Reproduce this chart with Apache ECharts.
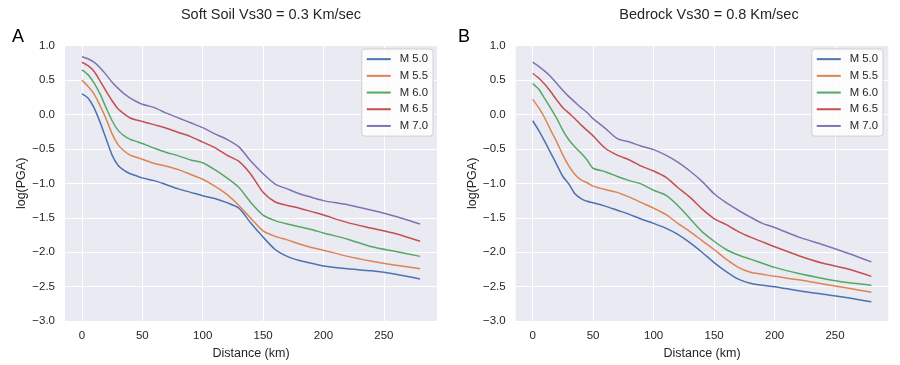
<!DOCTYPE html>
<html>
<head>
<meta charset="utf-8">
<script src="https://cdn.jsdelivr.net/npm/echarts@6/dist/echarts.min.js"></script>
<style>
  html, body { margin: 0; padding: 0; background: #fff; }
  #chart { width: 900px; height: 365px; }
</style>
</head>
<body>
<div id="chart"></div>
<script>
// distances (km) shared by every curve
var distance = [0, 5, 10, 15, 20, 25, 30, 35, 40, 45, 50, 60, 70, 80, 90, 100, 110, 120, 130, 140, 150, 160, 170, 180, 190, 200, 220, 240, 260, 280];
var magnitudes = ['M 5.0', 'M 5.5', 'M 6.0', 'M 6.5', 'M 7.0'];
var xTicks = [0, 50, 100, 150, 200, 250];

// panel A: soft soil
var softM50 = [0.30, 0.24, 0.10, -0.11, -0.35, -0.59, -0.74, -0.81, -0.86, -0.89, -0.92, -0.96, -1.02, -1.08, -1.13, -1.18, -1.22, -1.28, -1.36, -1.58, -1.78, -1.96, -2.06, -2.12, -2.16, -2.20, -2.24, -2.27, -2.32, -2.39];
var softM55 = [0.50, 0.41, 0.30, 0.13, -0.06, -0.28, -0.44, -0.53, -0.59, -0.62, -0.65, -0.71, -0.75, -0.80, -0.87, -0.94, -1.04, -1.16, -1.32, -1.51, -1.69, -1.77, -1.82, -1.88, -1.93, -1.97, -2.06, -2.13, -2.19, -2.24];
var softM60 = [0.65, 0.58, 0.46, 0.30, 0.10, -0.09, -0.23, -0.31, -0.36, -0.39, -0.42, -0.49, -0.55, -0.60, -0.66, -0.70, -0.80, -0.92, -1.06, -1.28, -1.46, -1.54, -1.59, -1.63, -1.67, -1.72, -1.81, -1.92, -1.99, -2.06];
var softM65 = [0.76, 0.71, 0.63, 0.49, 0.34, 0.20, 0.08, 0.01, -0.05, -0.08, -0.10, -0.15, -0.20, -0.26, -0.32, -0.40, -0.48, -0.59, -0.68, -0.87, -1.13, -1.27, -1.32, -1.36, -1.41, -1.46, -1.57, -1.65, -1.73, -1.84];
var softM70 = [0.84, 0.81, 0.76, 0.68, 0.58, 0.47, 0.38, 0.30, 0.24, 0.19, 0.15, 0.10, 0.02, -0.05, -0.12, -0.19, -0.28, -0.36, -0.47, -0.68, -0.86, -1.01, -1.08, -1.15, -1.20, -1.25, -1.31, -1.39, -1.48, -1.59];

// panel B: bedrock
var rockM50 = [-0.09, -0.23, -0.39, -0.56, -0.73, -0.90, -1.01, -1.15, -1.22, -1.26, -1.28, -1.33, -1.39, -1.45, -1.52, -1.58, -1.65, -1.74, -1.86, -2.00, -2.15, -2.28, -2.39, -2.45, -2.48, -2.50, -2.56, -2.61, -2.66, -2.72];
var rockM55 = [0.22, 0.10, -0.05, -0.23, -0.40, -0.59, -0.75, -0.87, -0.95, -0.99, -1.04, -1.09, -1.13, -1.20, -1.28, -1.36, -1.45, -1.58, -1.70, -1.83, -1.96, -2.10, -2.22, -2.29, -2.32, -2.35, -2.40, -2.46, -2.52, -2.58];
var rockM60 = [0.45, 0.37, 0.23, 0.09, -0.06, -0.23, -0.37, -0.47, -0.56, -0.66, -0.78, -0.83, -0.90, -0.96, -1.01, -1.10, -1.17, -1.32, -1.51, -1.70, -1.84, -1.96, -2.04, -2.10, -2.16, -2.22, -2.31, -2.38, -2.44, -2.48];
var rockM65 = [0.60, 0.53, 0.44, 0.33, 0.21, 0.10, 0.02, -0.06, -0.15, -0.23, -0.31, -0.49, -0.59, -0.66, -0.75, -0.82, -0.91, -1.06, -1.20, -1.37, -1.51, -1.60, -1.70, -1.78, -1.85, -1.92, -2.05, -2.16, -2.24, -2.35];
var rockM70 = [0.76, 0.70, 0.63, 0.55, 0.45, 0.35, 0.26, 0.18, 0.10, 0.03, -0.06, -0.20, -0.35, -0.40, -0.46, -0.51, -0.59, -0.69, -0.82, -0.97, -1.15, -1.28, -1.39, -1.49, -1.58, -1.64, -1.78, -1.89, -2.01, -2.14];

var colors = ['#4C72B0', '#DD8452', '#55A868', '#C44E52', '#8172B3'];
var font = 'Liberation Sans, Arial, sans-serif';

function pairs(vals) {
    return distance.map(function (d, i) { return [d, vals[i]]; });
}

function fmtY(v) {
    return (v < 0 ? '\u2212' : '') + Math.abs(v).toFixed(1);
}

function makeX(idx) {
    return {
        gridIndex: idx, type: 'value', min: -14, max: 294,
        name: 'Distance (km)', nameLocation: 'middle', nameGap: 22,
        nameTextStyle: { fontFamily: font, fontSize: 12.5, color: '#262626' },
        axisLine: { show: false },
        axisTick: { show: false, customValues: xTicks },
        axisLabel: { customValues: xTicks, margin: 9, fontFamily: font, fontSize: 11.5, color: '#262626' },
        splitLine: { show: true, lineStyle: { color: '#ffffff', width: 1 } }
    };
}

function makeY(idx) {
    return {
        gridIndex: idx, type: 'value', min: -3, max: 1, interval: 0.5,
        name: 'log(PGA)', nameLocation: 'middle', nameGap: 37,
        nameTextStyle: { fontFamily: font, fontSize: 12.5, color: '#262626' },
        axisLine: { show: false },
        axisTick: { show: false },
        axisLabel: { margin: 10, fontFamily: font, fontSize: 11.5, color: '#262626', formatter: fmtY },
        splitLine: { show: true, lineStyle: { color: '#ffffff', width: 1 } }
    };
}

function makeLegend(right) {
    return {
        data: magnitudes, orient: 'vertical', right: right, top: 49,
        icon: 'rect', itemWidth: 24, itemHeight: 2, itemGap: 4.4,
        padding: [4, 5, 4, 5],
        backgroundColor: 'rgba(255,255,255,0.85)', borderColor: '#d0d0d0', borderWidth: 1, borderRadius: 3,
        textStyle: { fontFamily: font, fontSize: 11.3, color: '#262626', lineHeight: 12.3, padding: [0, 0, 0, 4] },
        selectedMode: false
    };
}

var softData = [softM50, softM55, softM60, softM65, softM70];
var rockData = [rockM50, rockM55, rockM60, rockM65, rockM70];
var series = [];
[softData, rockData].forEach(function (panel, p) {
    panel.forEach(function (vals, i) {
        series.push({
            name: magnitudes[i], type: 'line', xAxisIndex: p, yAxisIndex: p,
            data: pairs(vals), showSymbol: false, smooth: 0.25,
            lineStyle: { color: colors[i], width: 1.5 },
            itemStyle: { color: colors[i] },
            emphasis: { disabled: true }
        });
    });
});

var chart = echarts.init(document.getElementById('chart'));
chart.setOption({
    animation: false,
    color: colors,
    title: [
        { text: 'Soft Soil Vs30 = 0.3 Km/sec', left: 271, top: 7, textAlign: 'center', padding: 0,
          textStyle: { fontFamily: font, fontSize: 14.5, fontWeight: 'normal', color: '#262626' } },
        { text: 'Bedrock Vs30 = 0.8 Km/sec', left: 709, top: 7, textAlign: 'center', padding: 0,
          textStyle: { fontFamily: font, fontSize: 14.5, fontWeight: 'normal', color: '#262626' } },
        { text: 'A', left: 12, top: 28, padding: 0,
          textStyle: { fontFamily: font, fontSize: 18, fontWeight: 'normal', color: '#000' } },
        { text: 'B', left: 458, top: 28, padding: 0,
          textStyle: { fontFamily: font, fontSize: 18, fontWeight: 'normal', color: '#000' } }
    ],
    legend: [makeLegend(467), makeLegend(17)],
    grid: [
        { left: 65, top: 45.7, width: 372, height: 279.3, show: true, backgroundColor: '#EAEAF2', borderWidth: 0 },
        { left: 515.7, top: 45.7, width: 372.6, height: 279.3, show: true, backgroundColor: '#EAEAF2', borderWidth: 0 }
    ],
    xAxis: [makeX(0), makeX(1)],
    yAxis: [makeY(0), makeY(1)],
    series: series
});
</script>
</body>
</html>
